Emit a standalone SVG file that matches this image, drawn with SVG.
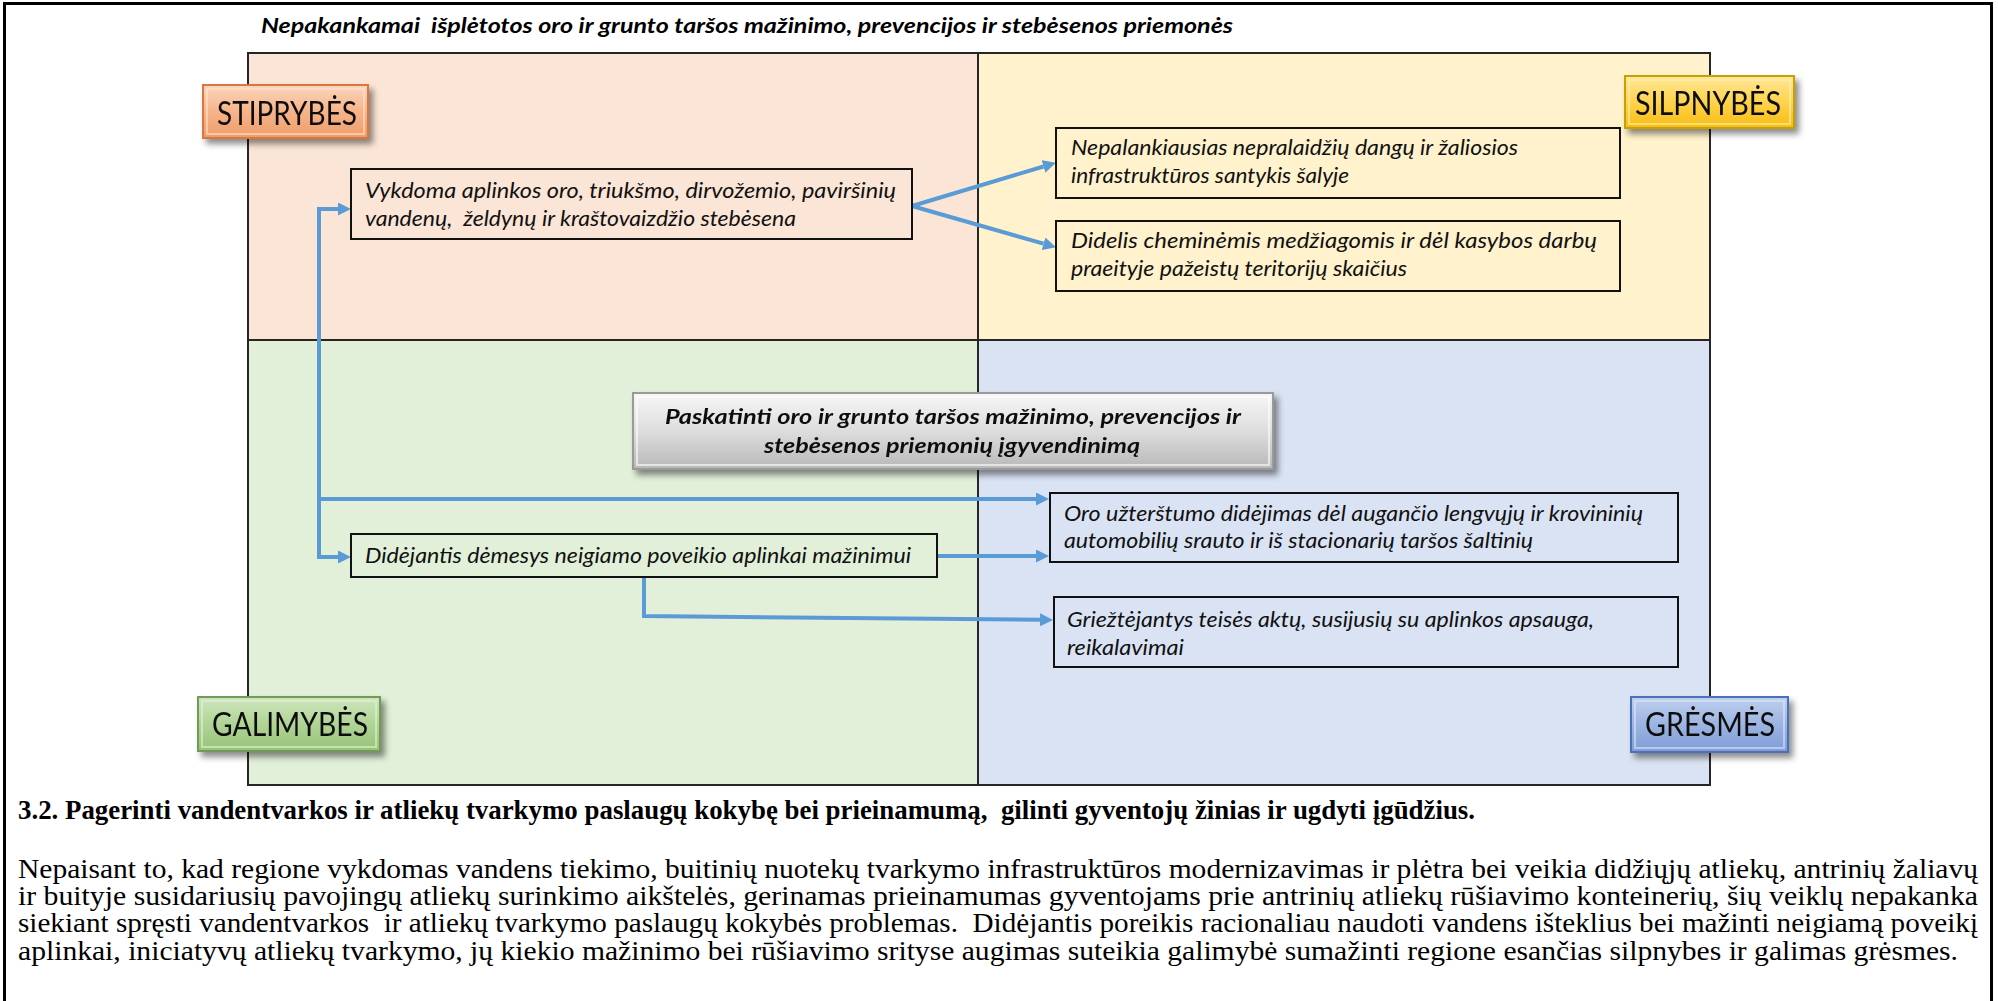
<svg xmlns="http://www.w3.org/2000/svg" width="1998" height="1001" viewBox="0 0 1998 1001">
<defs>
<style>
.frame{fill:none;stroke:#000;stroke-width:3}
.quad{stroke:none}
.qline{stroke:#262626;stroke-width:2;fill:none}
.box{stroke:#111;stroke-width:2}
.bt{font-family:Lato,"Liberation Sans",sans-serif;font-style:italic;font-size:21px;fill:#111}
.lbl{font-family:Lato,"Liberation Sans",sans-serif;font-size:32px;fill:#111}
.title{font-family:Lato,"Liberation Sans",sans-serif;font-style:italic;font-weight:bold;font-size:20px;fill:#000}
.dt{font-family:Lato,"Liberation Sans",sans-serif;font-style:italic;font-weight:bold;font-size:21px;fill:#111}
.h{font-family:"Liberation Serif",serif;font-weight:bold;font-size:27px;fill:#000}
.p{font-family:"Liberation Serif",serif;font-size:27px;fill:#000}
.conn{fill:none;stroke:#5B9BD5;stroke-width:4;stroke-linejoin:miter;marker-end:url(#ah)}
</style>
<marker id="ah" markerUnits="userSpaceOnUse" markerWidth="13" markerHeight="13" refX="0" refY="6.5" orient="auto" viewBox="0 0 13 13">
<path d="M0,0 L13,6.5 L0,13 z" fill="#5B9BD5"/>
</marker>
<filter id="sh" x="-10%" y="-20%" width="130%" height="160%">
<feDropShadow dx="4" dy="5" stdDeviation="3" flood-color="#000" flood-opacity="0.45"/>
</filter>
<linearGradient id="gO" x1="0" y1="0" x2="0" y2="1">
<stop offset="0" stop-color="#FBD6BD"/><stop offset="0.5" stop-color="#F6B48A"/><stop offset="1" stop-color="#EE9C68"/>
</linearGradient>
<linearGradient id="gY" x1="0" y1="0" x2="0" y2="1">
<stop offset="0" stop-color="#FFE79A"/><stop offset="0.5" stop-color="#FFD34D"/><stop offset="1" stop-color="#F5BC12"/>
</linearGradient>
<linearGradient id="gG" x1="0" y1="0" x2="0" y2="1">
<stop offset="0" stop-color="#CFE6BF"/><stop offset="0.5" stop-color="#B0D495"/><stop offset="1" stop-color="#97C279"/>
</linearGradient>
<linearGradient id="gB" x1="0" y1="0" x2="0" y2="1">
<stop offset="0" stop-color="#BFD0EE"/><stop offset="0.5" stop-color="#9CB4E2"/><stop offset="1" stop-color="#7F9CD6"/>
</linearGradient>
<linearGradient id="gS" x1="0" y1="0" x2="0" y2="1">
<stop offset="0" stop-color="#F7F7F7"/><stop offset="0.5" stop-color="#DDDDDD"/><stop offset="1" stop-color="#B8B8B8"/>
</linearGradient>
</defs>

<rect width="1998" height="1001" fill="#fff"/>
<rect class="frame" x="4.5" y="3.5" width="1987" height="1010"/>

<g id="quadrants">
<rect class="quad" x="248" y="53" width="730" height="287" fill="#FBE5D6"/>
<rect class="quad" x="978" y="53" width="732" height="287" fill="#FFF2CC"/>
<rect class="quad" x="248" y="340" width="730" height="445" fill="#E2F0D9"/>
<rect class="quad" x="978" y="340" width="732" height="445" fill="#DAE3F3"/>
<rect class="qline" x="248" y="53" width="1462" height="732"/>
<line class="qline" x1="978" y1="53" x2="978" y2="785"/>
<line class="qline" x1="248" y1="340" x2="1710" y2="340"/>
</g>

<g id="title">
<text class="title" x="261" y="33" textLength="972" lengthAdjust="spacingAndGlyphs" xml:space="preserve">Nepakankamai  išplėtotos oro ir grunto taršos mažinimo, prevencijos ir stebėsenos priemonės</text>
</g>

<g id="connectors">
<path class="conn" d="M912,206 L1043.5,166.5"/>
<path class="conn" d="M912,206 L1043.5,243.7"/>
<path class="conn" d="M319,499 V209 H338"/>
<path class="conn" d="M319,499 V557 H338"/>
<path class="conn" d="M317,499 H1036"/>
<path class="conn" d="M937,556 H1036"/>
<path class="conn" d="M644,577 V616 L1040,619.8"/>
</g>

<g id="stiprybes" filter="url(#sh)">
<rect x="203" y="85" width="165" height="53" fill="url(#gO)" stroke="#D9773F" stroke-width="2"/>
<rect x="207" y="89" width="157" height="45" fill="none" stroke="#FDE3D2" stroke-opacity="0.6" stroke-width="2"/>
<text class="lbl" x="217" y="125" textLength="140" lengthAdjust="spacingAndGlyphs">STIPRYBĖS</text>
</g>
<g id="silpnybes" filter="url(#sh)">
<rect x="1625" y="76" width="169" height="52" fill="url(#gY)" stroke="#C8A000" stroke-width="2"/>
<rect x="1629" y="80" width="161" height="44" fill="none" stroke="#FFF0B8" stroke-opacity="0.6" stroke-width="2"/>
<text class="lbl" x="1635" y="115" textLength="146" lengthAdjust="spacingAndGlyphs">SILPNYBĖS</text>
</g>
<g id="galimybes" filter="url(#sh)">
<rect x="198" y="697" width="182" height="54" fill="url(#gG)" stroke="#6F9A55" stroke-width="2"/>
<rect x="202" y="701" width="174" height="46" fill="none" stroke="#E3F1D9" stroke-opacity="0.6" stroke-width="2"/>
<text class="lbl" x="212" y="736" textLength="156" lengthAdjust="spacingAndGlyphs">GALIMYBĖS</text>
</g>
<g id="gresmes" filter="url(#sh)">
<rect x="1631" y="697" width="157" height="55" fill="url(#gB)" stroke="#4A6FB8" stroke-width="2"/>
<rect x="1635" y="701" width="149" height="47" fill="none" stroke="#DCE6F7" stroke-opacity="0.6" stroke-width="2"/>
<text class="lbl" x="1645" y="736" textLength="130" lengthAdjust="spacingAndGlyphs">GRĖSMĖS</text>
</g>

<g id="box-vykdoma">
<rect class="box" x="351" y="169" width="561" height="70" fill="#FBE5D6"/>
<text class="bt" x="365" y="198" textLength="531" lengthAdjust="spacingAndGlyphs">Vykdoma aplinkos oro, triukšmo, dirvožemio, paviršinių</text>
<text class="bt" x="365" y="226" textLength="431" lengthAdjust="spacingAndGlyphs" xml:space="preserve">vandenų,  želdynų ir kraštovaizdžio stebėsena</text>
</g>
<g id="box-nepalankiausias">
<rect class="box" x="1056" y="128" width="564" height="70" fill="#FFF2CC"/>
<text class="bt" x="1071" y="155" textLength="447" lengthAdjust="spacingAndGlyphs">Nepalankiausias nepralaidžių dangų ir žaliosios</text>
<text class="bt" x="1071" y="183" textLength="278" lengthAdjust="spacingAndGlyphs">infrastruktūros santykis šalyje</text>
</g>
<g id="box-didelis">
<rect class="box" x="1056" y="221" width="564" height="70" fill="#FFF2CC"/>
<text class="bt" x="1071" y="248" textLength="526" lengthAdjust="spacingAndGlyphs">Didelis cheminėmis medžiagomis ir dėl kasybos darbų</text>
<text class="bt" x="1071" y="276" textLength="336" lengthAdjust="spacingAndGlyphs">praeityje pažeistų teritorijų skaičius</text>
</g>
<g id="box-paskatinti" filter="url(#sh)">
<rect x="633" y="393" width="640" height="76" fill="url(#gS)" stroke="#9A9A9A" stroke-width="2"/>
<rect x="637" y="397" width="632" height="68" fill="none" stroke="#FFFFFF" stroke-opacity="0.6" stroke-width="2"/>
<text class="dt" x="665" y="424" textLength="576" lengthAdjust="spacingAndGlyphs">Paskatinti oro ir grunto taršos mažinimo, prevencijos ir</text>
<text class="dt" x="764" y="453" textLength="376" lengthAdjust="spacingAndGlyphs">stebėsenos priemonių įgyvendinimą</text>
</g>
<g id="box-didejantis">
<rect class="box" x="351" y="534" width="586" height="43" fill="#E2F0D9"/>
<text class="bt" x="365" y="563" textLength="546" lengthAdjust="spacingAndGlyphs">Didėjantis dėmesys neigiamo poveikio aplinkai mažinimui</text>
</g>
<g id="box-oro">
<rect class="box" x="1050" y="493" width="628" height="69" fill="#DAE3F3"/>
<text class="bt" x="1064" y="521" textLength="579" lengthAdjust="spacingAndGlyphs">Oro užterštumo didėjimas dėl augančio lengvųjų ir krovininių</text>
<text class="bt" x="1064" y="548" textLength="469" lengthAdjust="spacingAndGlyphs">automobilių srauto ir iš stacionarių taršos šaltinių</text>
</g>
<g id="box-grieztejantys">
<rect class="box" x="1054" y="597" width="624" height="70" fill="#DAE3F3"/>
<text class="bt" x="1067" y="627" textLength="527" lengthAdjust="spacingAndGlyphs">Griežtėjantys teisės aktų, susijusių su aplinkos apsauga,</text>
<text class="bt" x="1067" y="655" textLength="117" lengthAdjust="spacingAndGlyphs">reikalavimai</text>
</g>

<g id="section-text">
<text class="h" x="18" y="819" textLength="1457" lengthAdjust="spacingAndGlyphs" xml:space="preserve">3.2. Pagerinti vandentvarkos ir atliekų tvarkymo paslaugų kokybę bei prieinamumą,  gilinti gyventojų žinias ir ugdyti įgūdžius.</text>
<text class="p" x="18" y="878" textLength="1960" lengthAdjust="spacingAndGlyphs">Nepaisant to, kad regione vykdomas vandens tiekimo, buitinių nuotekų tvarkymo infrastruktūros modernizavimas ir plėtra bei veikia didžiųjų atliekų, antrinių žaliavų</text>
<text class="p" x="18" y="905" textLength="1960" lengthAdjust="spacingAndGlyphs">ir buityje susidariusių pavojingų atliekų surinkimo aikštelės, gerinamas prieinamumas gyventojams prie antrinių atliekų rūšiavimo konteinerių, šių veiklų nepakanka</text>
<text class="p" x="18" y="932" textLength="1960" lengthAdjust="spacingAndGlyphs" xml:space="preserve">siekiant spręsti vandentvarkos  ir atliekų tvarkymo paslaugų kokybės problemas.  Didėjantis poreikis racionaliau naudoti vandens išteklius bei mažinti neigiamą poveikį</text>
<text class="p" x="18" y="960" textLength="1940" lengthAdjust="spacingAndGlyphs">aplinkai, iniciatyvų atliekų tvarkymo, jų kiekio mažinimo bei rūšiavimo srityse augimas suteikia galimybė sumažinti regione esančias silpnybes ir galimas grėsmes.</text>
</g>
</svg>
